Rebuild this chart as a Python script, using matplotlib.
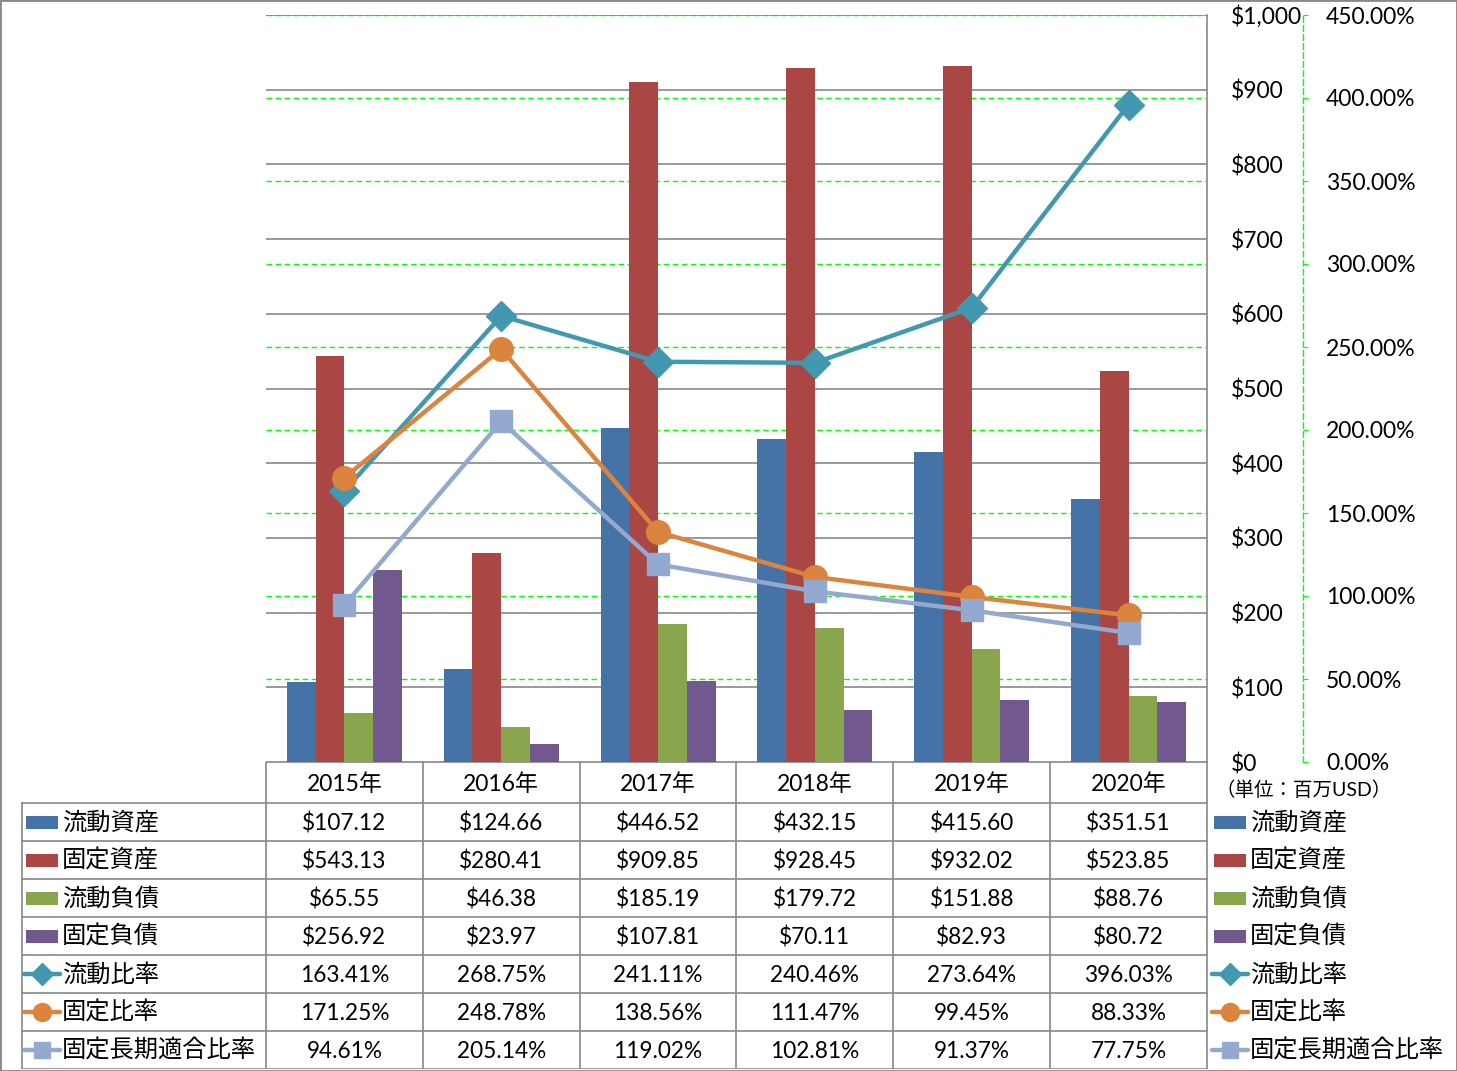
import numpy as np
import matplotlib
matplotlib.use("Agg")
import matplotlib.pyplot as plt
from matplotlib.patches import Rectangle
from matplotlib.ticker import FuncFormatter

plt.rcParams['font.family'] = ['Lato', 'Noto Sans CJK JP', 'DejaVu Sans']

years = ["2015年", "2016年", "2017年", "2018年", "2019年", "2020年"]

bar_names = ["流動資産", "固定資産", "流動負債", "固定負債"]
current_assets = [107.12, 124.66, 446.52, 432.15, 415.60, 351.51]
fixed_assets = [543.13, 280.41, 909.85, 928.45, 932.02, 523.85]
current_liab = [65.55, 46.38, 185.19, 179.72, 151.88, 88.76]
fixed_liab = [256.92, 23.97, 107.81, 70.11, 82.93, 80.72]

line_names = ["流動比率", "固定比率", "固定長期適合比率"]
current_ratio = [163.41, 268.75, 241.11, 240.46, 273.64, 396.03]
fixed_ratio = [171.25, 248.78, 138.56, 111.47, 99.45, 88.33]
fixed_long_ratio = [94.61, 205.14, 119.02, 102.81, 91.37, 77.75]

bar_colors = ["#4572A7", "#AA4643", "#89A54E", "#71588F"]
line_colors = ["#4198AF", "#DB843D", "#93A9CF"]
line_markers = ["D", "o", "s"]
line_ms = [15, 17, 16]
key_ms = [11, 13, 12]

W, H = 1457, 1071
fig = plt.figure(figsize=(W / 100, H / 100), dpi=100)
fig.patches.append(Rectangle((0, 0), 1, 1, transform=fig.transFigure,
                             fill=False, edgecolor="#888888", lw=2))

x = np.arange(len(years))
rect = [266 / W, 1 - 762 / H, 941 / W, 747 / H]
cw = 941 / 6  # px per category

# percent axis (grid + ticks), drawn below bars
axg = fig.add_axes(rect, zorder=0)
ax = fig.add_axes(rect, zorder=1, sharex=axg)
axl = fig.add_axes(rect, zorder=2, sharex=axg)

axg.set_xlim(-0.5, 5.5)
axg.set_ylim(0, 450)
axg.yaxis.tick_right()
axg.set_yticks(np.arange(0, 451, 50))
axg.yaxis.set_major_formatter(FuncFormatter(lambda v, p: f"{v:.2f}%"))
axg.tick_params(axis="y", length=3.6, color="#00FF00", pad=13, labelsize=16.5)
axg.tick_params(axis="x", bottom=False, labelbottom=False)
axg.grid(axis="y", color="#00FF00", linestyle=(0, (4, 2.5)), linewidth=1)
for s in ["left", "top", "bottom"]:
    axg.spines[s].set_visible(False)
axg.spines["right"].set_position(("outward", 96 * 0.72))
axg.spines["right"].set_color("#00FF00")
axg.spines["right"].set_linestyle((0, (4, 2.5)))
axg.spines["right"].set_linewidth(1)

# bars ($ axis)
ax.patch.set_visible(False)
ax.set_ylim(0, 1000)
ax.yaxis.tick_right()
ax.set_yticks(np.arange(0, 1001, 100))
ax.yaxis.set_major_formatter(FuncFormatter(lambda v, p: f"${v:,.0f}"))
ax.tick_params(axis="y", length=0, pad=17, labelsize=16.5)
ax.tick_params(axis="x", bottom=False, labelbottom=False)
ax.set_axisbelow(True)
ax.grid(axis="y", color="#888888", linewidth=1.2)
for s in ["left", "top", "bottom"]:
    ax.spines[s].set_visible(False)
ax.spines["right"].set_color("#888888")
ax.spines["right"].set_linewidth(1.2)

bw = 28.75 / cw
bar_series = [current_assets, fixed_assets, current_liab, fixed_liab]
for k, vals in enumerate(bar_series):
    ax.bar(x + (k - 1.5) * bw, vals, width=bw, color=bar_colors[k], linewidth=0)

# lines (percent axis)
axl.patch.set_visible(False)
axl.set_ylim(0, 450)
axl.axis("off")
line_series = [current_ratio, fixed_ratio, fixed_long_ratio]
for k, vals in enumerate(line_series):
    axl.plot(x, vals, color=line_colors[k], lw=3.2, marker=line_markers[k],
             ms=line_ms[k], mfc=line_colors[k], mec=line_colors[k], mew=1,
             solid_capstyle="round")

# data table
h0 = 41 / 38
n_rows = len(bar_names) + len(line_names)
axt = fig.add_axes([0, 1 - 1069 / H, 1, 307 / H], zorder=3)
axt.set_xlim(-0.5 - 266 / cw, 5.5 + (W - 1207) / cw)
axt.set_ylim(h0 + n_rows, 0)
axt.axis("off")
x_left = -0.5 - 244 / cw
lc = "#888888"
axt.plot([-0.5, 5.5], [0, 0], color=lc, lw=1.2)
for r in range(n_rows + 1):
    axt.plot([x_left, 5.5], [h0 + r, h0 + r], color=lc, lw=1.2)
for k in range(7):
    axt.plot([-0.5 + k, -0.5 + k], [0, h0 + n_rows], color=lc, lw=1.2)
axt.plot([x_left, x_left], [h0, h0 + n_rows], color=lc, lw=1.2)

for i, y in enumerate(years):
    axt.text(i, h0 / 2 + 0.04, y, ha="center", va="center", fontsize=16.5)

row_names = bar_names + line_names
row_texts = [[f"${v:,.2f}" for v in s] for s in bar_series] + \
            [[f"{v:.2f}%" for v in s] for s in line_series]


def draw_key(x0, yc, k):
    if k < 4:
        axt.add_patch(Rectangle((x0, yc - 6.5 / 38), 32 / cw, 13 / 38,
                                color=bar_colors[k], lw=0))
    else:
        j = k - 4
        axt.plot([x0 - 2 / cw, x0 + 34 / cw], [yc, yc], color=line_colors[j], lw=3.2,
                 solid_capstyle="round")
        axt.plot([x0 + 16 / cw], [yc], marker=line_markers[j], ms=key_ms[j],
                 color=line_colors[j], mec=line_colors[j])


for r, name in enumerate(row_names):
    yc = h0 + r + 0.5
    draw_key(x_left + 4 / cw, yc, r)
    axt.text(x_left + 40 / cw, yc, name, ha="left", va="center", fontsize=17.5)
    for i, t in enumerate(row_texts[r]):
        axt.text(i, yc + 0.04, t, ha="center", va="center", fontsize=16.3)
    # legend on the right
    draw_key(5.5 + 7 / cw, yc, r)
    axt.text(5.5 + 43 / cw, yc, name, ha="left", va="center", fontsize=17.5)

axt.text(5.5 + 9 / cw, (790 - 762) / 38, "（単位：百万USD）", ha="left", va="center",
         fontsize=14)

fig.savefig("out.png", dpi=100)
